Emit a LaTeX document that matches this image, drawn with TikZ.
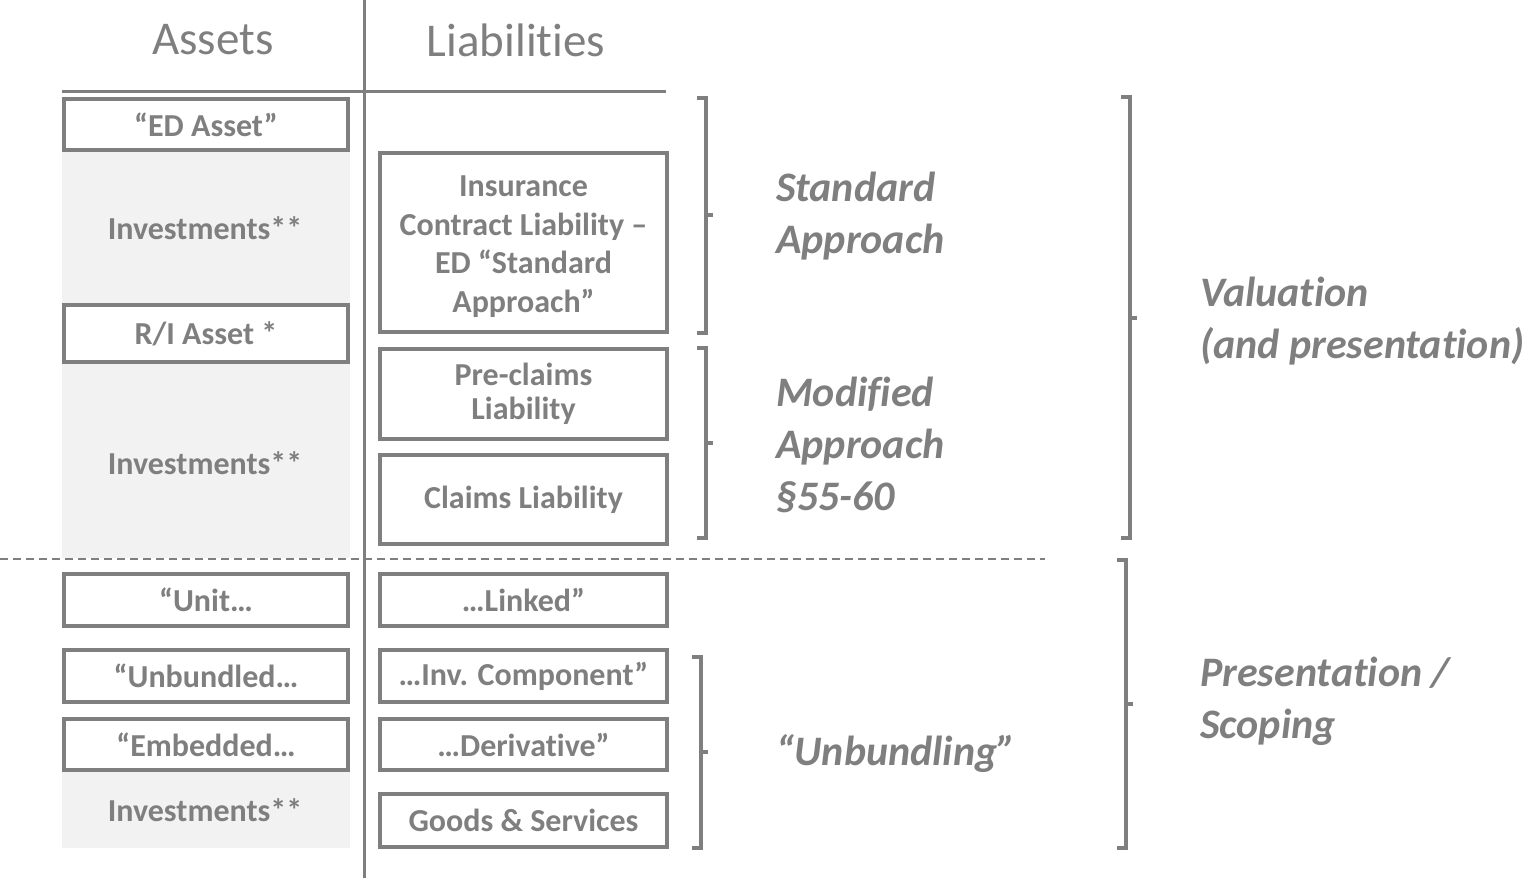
\documentclass[tikz,border=0pt]{standalone}
\usepackage{fontspec}
\setmainfont{Carlito}[RawFeature={-liga;-clig;-calt;-dlig}]
\usepackage{tikz}
\usetikzlibrary{positioning}
\definecolor{txtgray}{HTML}{7F7F7F}
\definecolor{linegray}{HTML}{7F7F7F}
\definecolor{fillgray}{HTML}{F2F2F2}
\tikzstyle{box}=[draw=linegray,line width=4.5pt,fill=white,text=txtgray,align=center,inner sep=0pt,font=\fontsize{32}{38.5}\selectfont\bfseries]
\tikzstyle{lbl}=[text=txtgray,align=left,anchor=west,inner sep=0pt,font=\fontsize{42}{52}\selectfont\bfseries\itshape]
\tikzstyle{head}=[text=txtgray,font=\fontsize{47}{56}\selectfont]
\tikzstyle{brk}=[draw=linegray,line width=3.5pt]

\begin{document}
\begin{tikzpicture}[x=1pt,y=-1pt]
	\useasboundingbox (0,0) rectangle (1529,878);
	\fill [fillgray] (62,150) rectangle (350,558);
	\fill [fillgray] (62,772) rectangle (350,848);
	\node [head] (as) at (213,40) {Assets};
	\node [head] (li) at (516,40) {Liabilities};
	\draw [linegray,line width=3pt] (62,91) -- (666,91);
	\draw [linegray,line width=3pt] (364,0) -- (364,878);
	\draw [linegray,line width=1.5pt,dash pattern=on 8pt off 5pt] (0,559) -- (1045,559);
	\node [box,minimum width=284pt,minimum height=51pt] (ed) at (206,124.5) {“ED Asset”};
	\node [box,minimum width=284pt,minimum height=57pt] (ri) at (206,333.5) {R/I Asset *};
	\node [box,draw=none,fill=none] (inv1) at (205,228) {Investments**};
	\node [box,draw=none,fill=none] (inv2) at (205,463) {Investments**};
	\node [box,minimum width=284pt,minimum height=52pt] (unit) at (206,600) {“Unit…};
	\node [box,minimum width=284pt,minimum height=52pt] (unb) at (206,676) {“Unbundled…};
	\node [box,minimum width=284pt,minimum height=51pt] (emb) at (206,744.5) {“Embedded…};
	\node [box,draw=none,fill=none] (inv3) at (205,810) {Investments**};
	\node [box,minimum width=287pt,minimum height=179pt] (icl) at (523.5,242.5) {};
	\node [box,draw=none,fill=none] (icltxt) at (523.5,246.5) {Insurance\\Contract Liability –\\ED “Standard\\Approach”};
	\node [box,minimum width=287pt,minimum height=90pt,font=\fontsize{32}{34}\selectfont\bfseries] (pre) at (523.5,394) {Pre-claims\\Liability};
	\node [box,minimum width=287pt,minimum height=89pt] (cl) at (523.5,499.5) {Claims Liability};
	\node [box,minimum width=287pt,minimum height=52pt] (lnk) at (523.5,600) {…Linked”};
	\node [box,minimum width=287pt,minimum height=52pt] (ic) at (523.5,676) {…Inv. Component”};
	\node [box,minimum width=287pt,minimum height=51pt] (der) at (523.5,744.5) {…Derivative”};
	\node [box,minimum width=287pt,minimum height=53pt] (gs) at (523.5,820.5) {Goods \& Services};
	\draw [brk] (697,98) -- (706,98) -- (706,333) -- (697,333);
	\draw [brk] (706,215) -- (713,215);
	\draw [brk] (697,348) -- (706,348) -- (706,538) -- (697,538);
	\draw [brk] (706,443) -- (713,443);
	\draw [brk] (692,657) -- (701,657) -- (701,848) -- (692,848);
	\draw [brk] (701,752) -- (708,752);
	\draw [brk] (1121,97) -- (1130,97) -- (1130,538) -- (1121,538);
	\draw [brk] (1130,318) -- (1137,318);
	\draw [brk] (1117,560) -- (1126,560) -- (1126,848) -- (1117,848);
	\draw [brk] (1126,704) -- (1133,704);
	\node [lbl] (std) at (776,216.5) {Standard\\Approach};
	\node [lbl] (mod) at (776,445) {Modified\\Approach\\§55-60};
	\node [lbl] (unbl) at (776,754) {“Unbundling”};
	\node [lbl] (val) at (1200,321) {Valuation\\(and presentation)};
	\node [lbl] (pres) at (1200,701) {Presentation /\\Scoping};
\end{tikzpicture}
\end{document}
